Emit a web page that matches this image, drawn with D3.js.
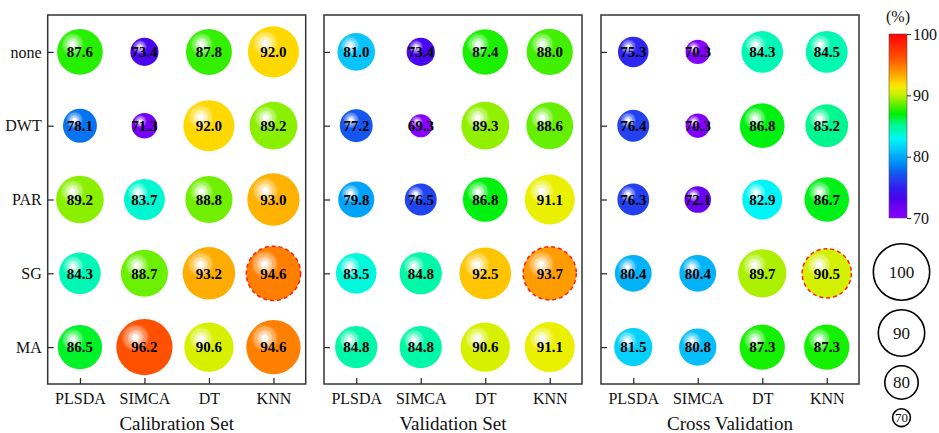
<!DOCTYPE html>
<html>
<head>
<meta charset="utf-8">
<script src="https://cdn.jsdelivr.net/npm/d3@7"></script>
<style>
  html, body { margin: 0; padding: 0; background: #fff; }
  svg { display: block; }
  svg text { font-family: "Liberation Serif", "DejaVu Serif", serif !important; }
</style>
</head>
<body>
<svg id="chart"></svg>
<script>
const W = 939, H = 433;

const methods = ['PLSDA', 'SIMCA', 'DT', 'KNN'];
const preprocess = ['none', 'DWT', 'PAR', 'SG', 'MA'];
const panelTitles = ['Calibration Set', 'Validation Set', 'Cross Validation'];

// rows = preprocess, columns = methods
const calibration = [
  [87.6, 73.4, 87.8, 92.0],
  [78.1, 71.3, 92.0, 89.2],
  [89.2, 83.7, 88.8, 93.0],
  [84.3, 88.7, 93.2, 94.6],
  [86.5, 96.2, 90.6, 94.6]
];
const validation = [
  [81.0, 73.4, 87.4, 88.0],
  [77.2, 69.3, 89.3, 88.6],
  [79.8, 76.5, 86.8, 91.1],
  [83.5, 84.8, 92.5, 93.7],
  [84.8, 84.8, 90.6, 91.1]
];
const crossValidation = [
  [75.3, 70.3, 84.3, 84.5],
  [76.4, 70.3, 86.8, 85.2],
  [76.3, 72.1, 82.9, 86.7],
  [80.4, 80.4, 89.7, 90.5],
  [81.5, 80.8, 87.3, 87.3]
];
const best = { row: 'SG', col: 'KNN' };

const colorTicks = [70, 80, 90, 100];
const sizeLegend = [100, 90, 80, 70];

// rainbow colour map
const cmapStops = [70, 72, 73, 75, 76, 77, 78, 79, 80, 81, 83, 84, 85, 87, 88, 89, 90, 91.2, 92, 93, 94.6, 96, 100];
const cmapColors = ['#8800ff', '#6c00f0', '#5000ee', '#3020f0', '#2838f0', '#1850f0', '#0870f0', '#0090f8',
  '#00a8fa', '#08c4fa', '#00f8f8', '#00f8c0', '#00f8a0', '#00f000', '#40f000', '#7cf000', '#c0f000',
  '#eef000', '#ffd800', '#ffb200', '#ff8000', '#ff5400', '#ff0000'];
const color = d3.scaleLinear().domain(cmapStops).range(cmapColors).clamp(true);

const size = d3.scaleLinear().domain([70, 100]).range([12, 30.5]);
const legendSize = d3.scaleLinear().domain([70, 80, 90, 100]).range([9.7, 17.5, 24, 29]);

const FONT = '"Liberation Serif", "DejaVu Serif", serif';

const svg = d3.select('#chart').attr('width', W).attr('height', H)
  .attr('font-family', FONT);

const defs = svg.append('defs');
const shine = defs.append('radialGradient')
  .attr('id', 'shine')
  .attr('cx', 0.34).attr('cy', 0.33).attr('r', 0.26)
  .attr('fx', 0.34).attr('fy', 0.33);
[[0, 1], [0.2, 1], [0.27, 0.75], [0.48, 0.62], [0.55, 0.42], [0.76, 0.32], [0.84, 0.16], [1, 0]]
  .forEach(([o, a]) => shine.append('stop').attr('offset', o).attr('stop-color', '#fff').attr('stop-opacity', a));

const panelW = 258, panelH = 369, panelTop = 15;
const lefts = [47.7, 324, 601];
const datasets = [calibration, validation, crossValidation];

const x = d3.scalePoint().domain(methods).range([0, panelW]).padding(0.5);
const y = d3.scalePoint().domain(preprocess).range([0, panelH]).padding(0.5);

datasets.forEach((data, p) => {
  const g = svg.append('g').attr('transform', `translate(${lefts[p]},${panelTop})`);

  const cells = [];
  data.forEach((row, i) => row.forEach((v, j) => cells.push({ r: preprocess[i], c: methods[j], v })));

  const b = g.selectAll('g.bubble').data(cells).enter().append('g')
    .attr('class', 'bubble')
    .attr('transform', d => `translate(${x(d.c)},${y(d.r)})`);

  b.append('circle')
    .attr('r', d => size(d.v))
    .attr('fill', d => color(d.v))
    .attr('stroke', d => (d.r === best.row && d.c === best.col) ? '#ff1a1a' : 'none')
    .attr('stroke-width', 1.5)
    .attr('stroke-dasharray', '4,3');

  b.append('circle')
    .attr('r', d => size(d.v))
    .attr('fill', 'url(#shine)');

  b.append('text')
    .attr('text-anchor', 'middle')
    .attr('dy', '0.35em')
    .attr('font-size', 15)
    .attr('font-weight', 'bold')
    .attr('fill', '#000')
    .text(d => d.v.toFixed(1));

  // axes with inward ticks
  const ax = g.append('g')
    .attr('transform', `translate(0,${panelH})`)
    .call(d3.axisBottom(x).tickSizeInner(-6).tickSizeOuter(0).tickPadding(9));
  const ay = g.append('g')
    .call(d3.axisLeft(y).tickSizeInner(-6).tickSizeOuter(0).tickPadding(6));
  [ax, ay].forEach(a => {
    a.attr('font-family', FONT);
    a.select('.domain').remove();
    a.selectAll('line').attr('stroke', '#222').attr('stroke-width', 1.2);
    a.selectAll('text').attr('font-size', 16).attr('fill', '#111');
  });
  if (p > 0) ay.selectAll('text').remove();

  g.append('rect')
    .attr('width', panelW).attr('height', panelH)
    .attr('fill', 'none').attr('stroke', '#333').attr('stroke-width', 1.5);

  g.append('text')
    .attr('x', panelW / 2).attr('y', panelH + 46)
    .attr('text-anchor', 'middle')
    .attr('font-size', 19)
    .attr('fill', '#111')
    .text(panelTitles[p]);
});

// colour bar
const cbX = 889, cbW = 18, cbTop = 34, cbBot = 218;
const cy = d3.scaleLinear().domain([70, 100]).range([cbBot, cbTop]);
const lg = defs.append('linearGradient').attr('id', 'cbar')
  .attr('x1', 0).attr('y1', 1).attr('x2', 0).attr('y2', 0);
cmapStops.forEach((s, i) => lg.append('stop')
  .attr('offset', (s - 70) / 30).attr('stop-color', cmapColors[i]));

svg.append('rect')
  .attr('x', cbX).attr('y', cbTop).attr('width', cbW).attr('height', cbBot - cbTop)
  .attr('fill', 'url(#cbar)').attr('stroke', '#555').attr('stroke-width', 0.6);

const cax = svg.append('g').attr('transform', `translate(${cbX + cbW},0)`)
  .call(d3.axisRight(cy).tickValues(colorTicks).tickSize(4).tickPadding(2));
cax.attr('font-family', FONT);
cax.select('.domain').remove();
cax.selectAll('line').attr('stroke', '#222');
cax.selectAll('text').attr('font-size', 16).attr('fill', '#111');

svg.append('text')
  .attr('x', cbX + cbW / 2).attr('y', 22)
  .attr('text-anchor', 'middle').attr('font-size', 16).attr('fill', '#111')
  .text('(%)');

// size legend: circles stacked downward
const legX = 901.5, legTop = 243, legGap = 8;
let yCursor = legTop;
const legItems = sizeLegend.map(v => {
  const r = legendSize(v);
  const item = { v, r, cy: yCursor + r };
  yCursor += 2 * r + legGap;
  return item;
});
const lgnd = svg.append('g').selectAll('g').data(legItems).enter().append('g')
  .attr('transform', d => `translate(${legX},${d.cy})`);
lgnd.append('circle')
  .attr('r', d => d.r - 0.8)
  .attr('fill', 'none').attr('stroke', '#000').attr('stroke-width', 1.6);
lgnd.append('text')
  .attr('text-anchor', 'middle').attr('dy', '0.35em')
  .attr('font-size', d => d.v === 70 ? 13 : 17).attr('fill', '#111')
  .text(d => d.v);
</script>
</body>
</html>
